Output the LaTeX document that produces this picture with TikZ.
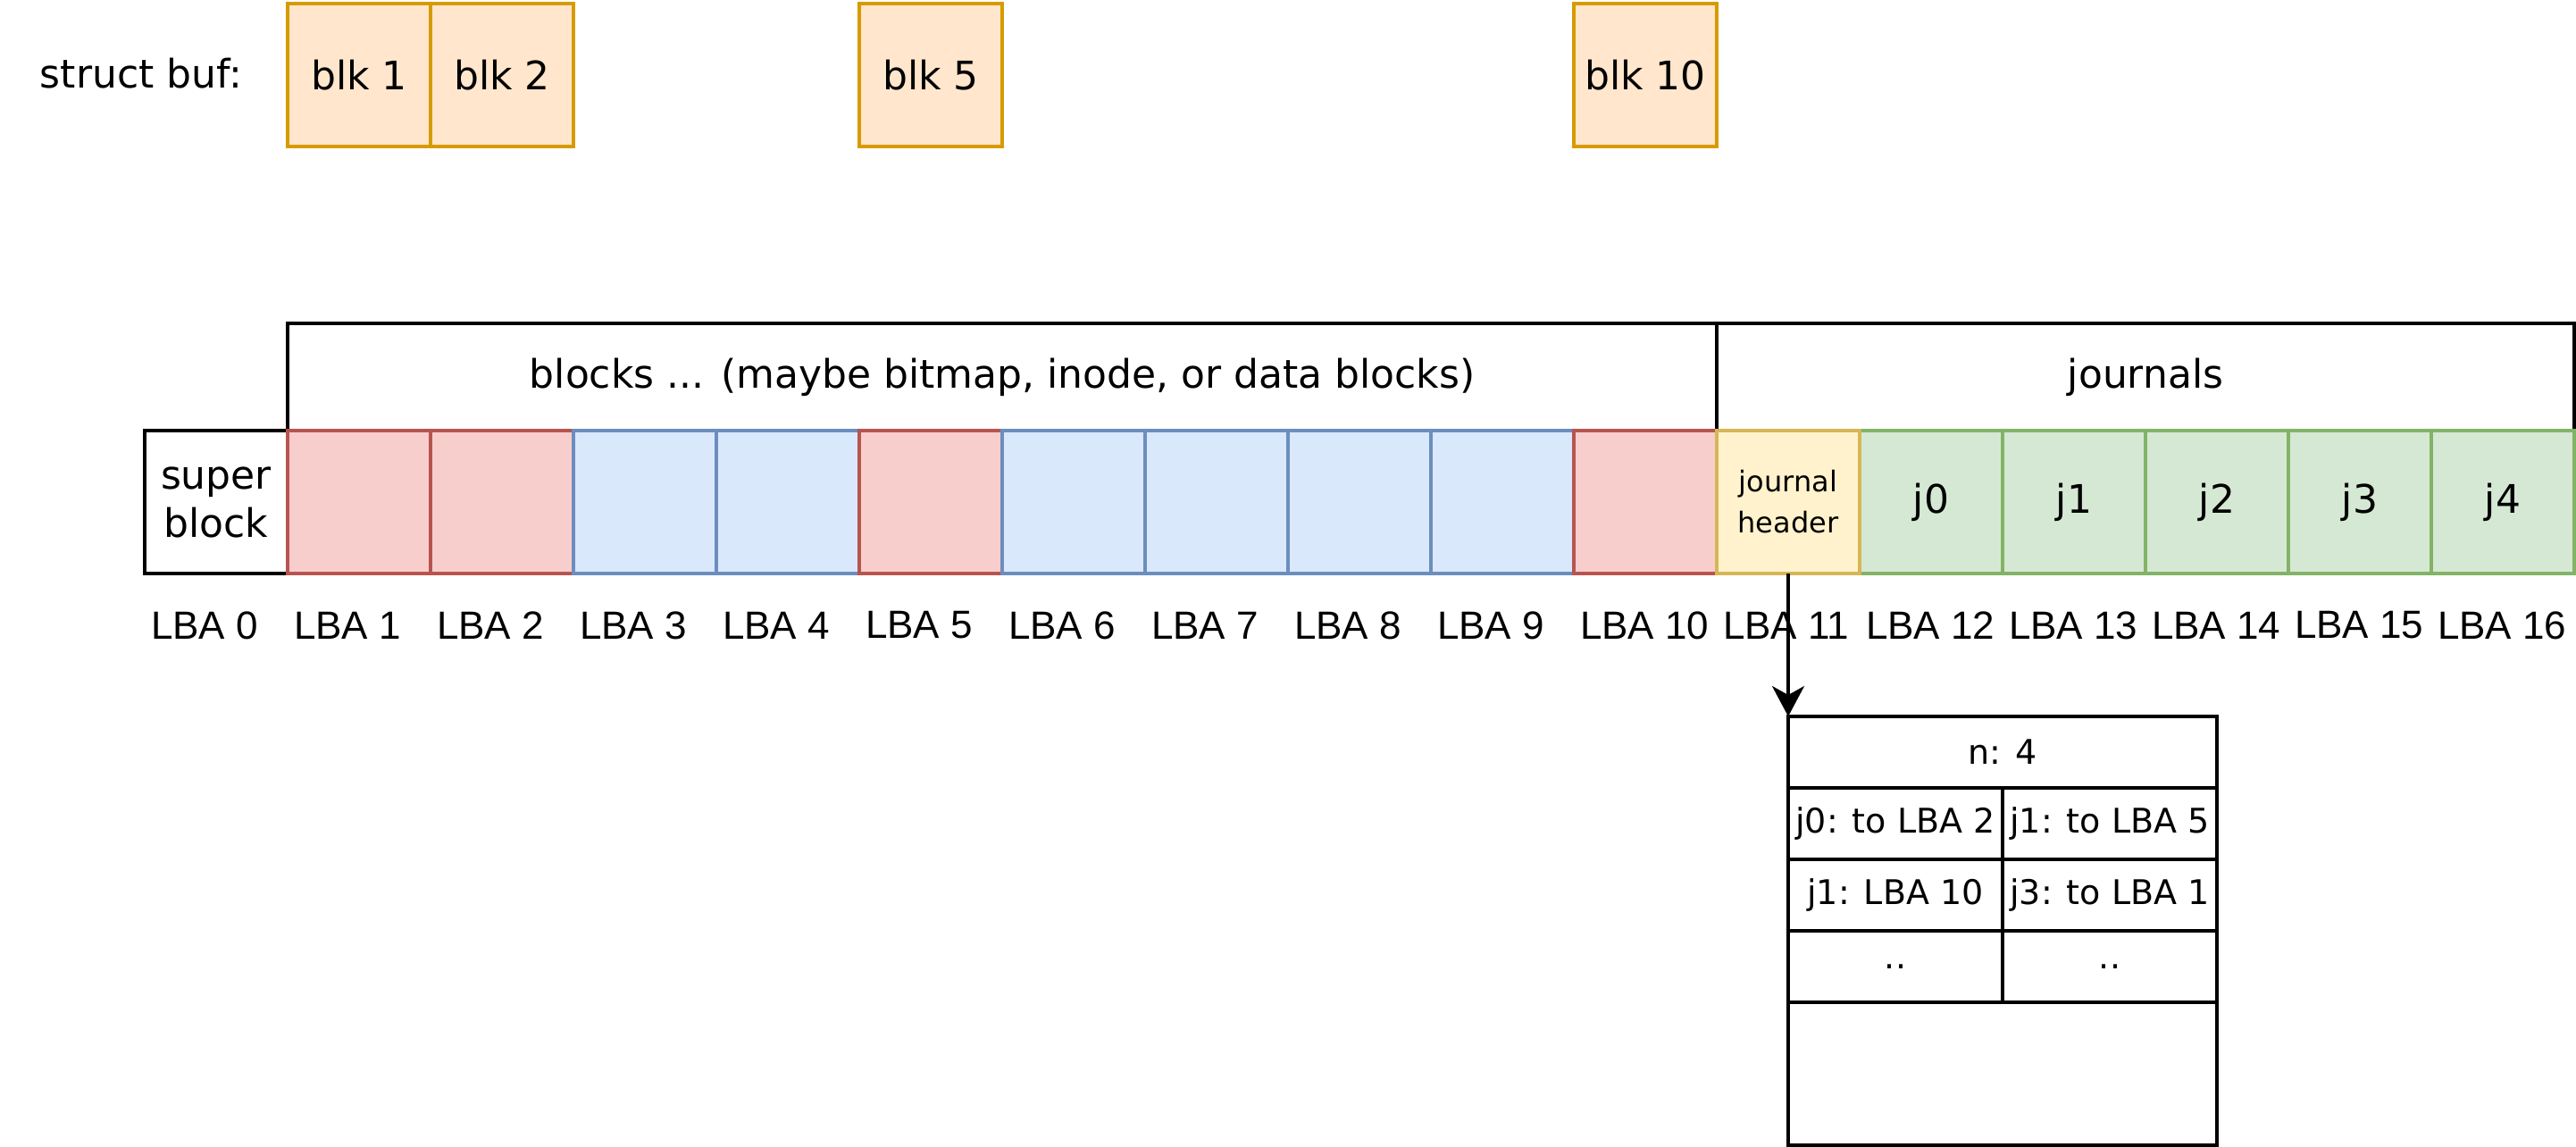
\documentclass[tikz,border=0pt]{standalone}
\usepackage{fontspec}
\setmainfont{DejaVu Sans}
\newfontfamily\lbafont{Liberation Sans}
\usetikzlibrary{arrows.meta}
\definecolor{orF}{HTML}{FFE6CC}\definecolor{orS}{HTML}{D79B00}
\definecolor{rdF}{HTML}{F8CECC}\definecolor{rdS}{HTML}{B85450}
\definecolor{blF}{HTML}{DAE8FC}\definecolor{blS}{HTML}{6C8EBF}
\definecolor{ylF}{HTML}{FFF2CC}\definecolor{ylS}{HTML}{D6B656}
\definecolor{grF}{HTML}{D5E8D4}\definecolor{grS}{HTML}{82B366}
\definecolor{wtF}{HTML}{FFFFFF}\definecolor{wtS}{HTML}{000000}
\begin{document}
\begin{tikzpicture}[x=1pt,y=-1pt,
  box/.style={draw=black, line width=1.8pt, inner sep=0pt, outer sep=0pt, align=center,
    font=\fontsize{22}{27}\selectfont},
  cellbox/.style={box, minimum width=80pt, minimum height=80pt},
  smallcell/.style={box, minimum width=120pt, minimum height=40pt, font=\fontsize{19}{23}\selectfont},
  lbl/.style={anchor=west, inner sep=0pt, outer sep=0pt, font=\lbafont\fontsize{22}{26}\selectfont},
  plain/.style={inner sep=0pt, outer sep=0pt, font=\fontsize{22}{27}\selectfont},
  arr/.style={line width=1.8pt, -{Stealth[length=17pt,width=18pt,inset=5pt]}}
]
\useasboundingbox (-1,-1) rectangle (1441,641);
\fill[white] (-1,-1) rectangle (1441,641);

% struct buf
\node[plain] (sb) at (78,40) {struct buf:};
\node[cellbox, fill=orF, draw=orS] (b1) at (200,41) {blk 1};
\node[cellbox, fill=orF, draw=orS] (b2) at (280,41) {blk 2};
\node[cellbox, fill=orF, draw=orS] (b5) at (520,41) {blk 5};
\node[cellbox, fill=orF, draw=orS] (b10) at (920,41) {blk 10};

% brackets
\node[box, minimum width=800pt, minimum height=60pt] (blocks) at (560,210)
  {blocks ... (maybe bitmap, inode, or data blocks)};
\node[box, minimum width=480pt, minimum height=60pt] (journals) at (1200,210) {journals};

% row of blocks
\node[cellbox] (c0) at (120,280) {super\\block};
\foreach \k/\c/\t in {1/rd/,2/rd/,3/bl/,4/bl/,5/rd/,6/bl/,7/bl/,8/bl/,9/bl/,10/rd/,
   12/gr/j0,13/gr/j1,14/gr/j2,15/gr/j3,16/gr/j4}{
  \node[cellbox, fill=\c F, draw=\c S] (c\k) at (120+80*\k,280) {\t};
}
\node[cellbox, fill=ylF, draw=ylS, font=\fontsize{16}{23}\selectfont] (c11) at (1000,280) {journal\\header};

% LBA labels
\foreach \k in {0,...,16}{
  \node[lbl] (l\k) at (83.5+80*\k,349) {LBA \k};
}

% journal header detail
\node[box, minimum width=240pt, minimum height=240pt] (jbox) at (1120,520) {};
\node[box, minimum width=240pt, minimum height=40pt, font=\fontsize{19}{23}\selectfont] (jn) at (1120,420) {n: 4};
\node[smallcell] (e11) at (1060,460) {j0: to LBA 2};
\node[smallcell] (e12) at (1180,460) {j1: to LBA 5};
\node[smallcell] (e21) at (1060,500) {j1: LBA 10};
\node[smallcell] (e22) at (1180,500) {j3: to LBA 1};
\node[smallcell] (e31) at (1060,540) {..};
\node[smallcell] (e32) at (1180,540) {..};

\draw[arr] (c11.south) -- (jbox.north west);
\end{tikzpicture}
\end{document}
